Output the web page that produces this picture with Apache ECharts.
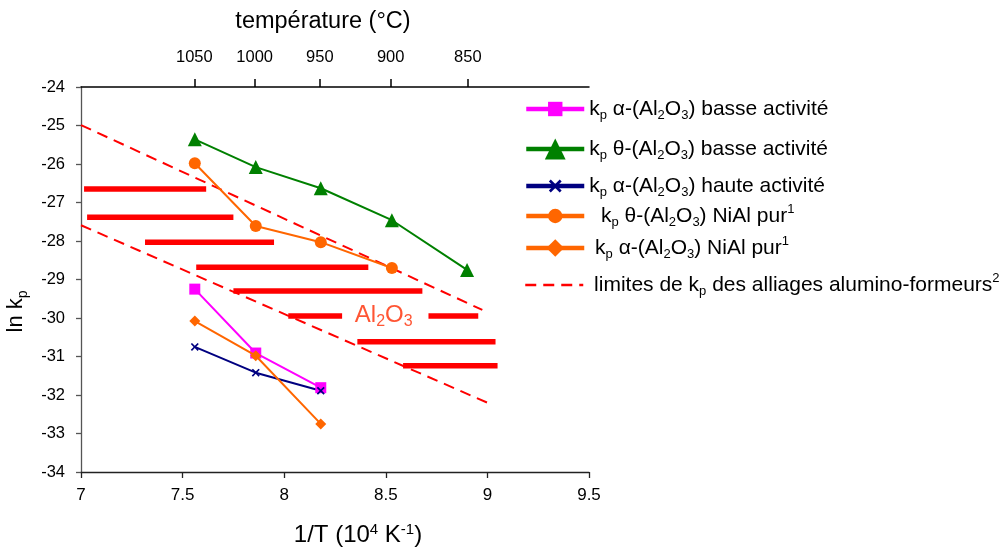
<!DOCTYPE html>
<html><head><meta charset="utf-8">
<script src="https://cdn.jsdelivr.net/npm/echarts@6/dist/echarts.min.js"></script>
<style>html,body{margin:0;padding:0;background:#fff}#c{width:1008px;height:549px}</style>
</head><body><div id="c"></div>
<script>
// ---- data ----
const invT = [7.56, 7.86, 8.18, 8.53, 8.90];
const thetaBasse = [-25.36, -26.08, -26.63, -27.46, -28.75];
const thetaNiAl = [-25.98, -27.61, -28.03, -28.70];
const alphaBasse = [-29.25, -30.91, -31.81];
const alphaNiAl = [-30.08, -30.98, -32.75];
const alphaHaute = [-30.75, -31.42, -31.89];
const upperX = [7.0, 8.975];
const upperY = [-24.99, -29.79];
const lowerX = [7.0, 9.0];
const lowerY = [-27.59, -32.20];
const barY  = [-26.65, -27.38, -28.03, -28.68, -29.30, -29.95, -29.95, -30.62, -31.24];
const barX0 = [7.015, 7.03, 7.315, 7.567, 7.75, 8.02, 8.71, 8.36, 8.585];
const barX1 = [7.616, 7.75, 7.95, 8.414, 8.68, 8.285, 8.955, 9.04, 9.05];
const oxideLabel = [8.49, -29.92];
const tempTicks = [1050, 1000, 950, 900, 850];
const names = [
  'kp α-(Al2O3) basse activité',
  'kp θ-(Al2O3) basse activité',
  'kp α-(Al2O3) haute activité',
  'kp θ-(Al2O3) NiAl pur1',
  'kp α-(Al2O3) NiAl pur1',
  'limites de kp des alliages alumino-formeurs2'
];
const richNames = [
  'k{sub|p} α-(Al{sub|2}O{sub|3}) basse activité',
  'k{sub|p} θ-(Al{sub|2}O{sub|3}) basse activité',
  'k{sub|p} α-(Al{sub|2}O{sub|3}) haute activité',
  '  k{sub|p} θ-(Al{sub|2}O{sub|3}) NiAl pur{sup|1}',
  ' k{sub|p} α-(Al{sub|2}O{sub|3}) NiAl pur{sup|1}',
  ' limites de k{sub|p} des alliages alumino-formeurs{sup|2}'
];

// ---- chart ----
const FONT = 'Liberation Sans';
const rich = {
  sub: {fontSize: 13, fontFamily: FONT, color: '#000', verticalAlign: 'bottom', lineHeight: 26},
  sup: {fontSize: 13, fontFamily: FONT, color: '#000', verticalAlign: 'top', lineHeight: 26}
};
const xMark = 'path://M0,1.5 L1.5,0 L5,3.5 L8.5,0 L10,1.5 L6.5,5 L10,8.5 L8.5,10 L5,6.5 L1.5,10 L0,8.5 L3.5,5 Z';
const tempPos = tempTicks.map(t => 1e4 / (t + 273.15));
const zip = (xs, ys) => ys.map((y, i) => [xs[i], y]);

const series = [];
series.push({name: names[5], type: 'line', data: zip(upperX, upperY), symbol: 'none', silent: true,
  lineStyle: {color: '#ff0000', width: 2, type: [11, 7]}, itemStyle: {color: '#ff0000'}, z: 1});
series.push({name: names[5], type: 'line', data: zip(lowerX, lowerY), symbol: 'none', silent: true,
  lineStyle: {color: '#ff0000', width: 2, type: [11, 7]}, itemStyle: {color: '#ff0000'}, z: 1});
barY.forEach((y, i) => series.push({type: 'line', data: [[barX0[i], y], [barX1[i], y]], symbol: 'none', silent: true,
  lineStyle: {color: '#ff0000', width: 5.5, cap: 'butt'}, z: 1}));
series.push({type: 'scatter', data: [oxideLabel], symbolSize: 2, itemStyle: {color: 'rgba(0,0,0,0)'}, silent: true,
  label: {show: true, position: 'inside', formatter: 'Al{s|2}O{s|3}', color: '#ff2a00', fontFamily: FONT, fontSize: 24, lineHeight: 30,
    rich: {s: {fontSize: 16, color: '#ff2a00', fontFamily: FONT, verticalAlign: 'bottom', lineHeight: 30}}}});
series.push({name: names[1], type: 'line', data: zip(invT, thetaBasse), symbol: 'triangle', symbolSize: 14,
  lineStyle: {color: '#008000', width: 2}, itemStyle: {color: '#008000'}, z: 3});
series.push({name: names[3], type: 'line', data: zip(invT, thetaNiAl), symbol: 'circle', symbolSize: 12,
  lineStyle: {color: '#ff6600', width: 2}, itemStyle: {color: '#ff6600'}, z: 3});
series.push({name: names[0], type: 'line', data: zip(invT, alphaBasse), symbol: 'rect', symbolSize: 11,
  lineStyle: {color: '#ff00ff', width: 2}, itemStyle: {color: '#ff00ff'}, z: 3});
series.push({name: names[4], type: 'line', data: zip(invT, alphaNiAl), symbol: 'diamond', symbolSize: 11,
  lineStyle: {color: '#ff6600', width: 2}, itemStyle: {color: '#ff6600'}, z: 4});
series.push({name: names[2], type: 'line', data: zip(invT, alphaHaute), symbol: xMark, symbolSize: 8,
  lineStyle: {color: '#000080', width: 2}, itemStyle: {color: '#000080'}, z: 3});

const legendCenters = [109, 149, 186, 216, 248, 285];
const legendH = [18, 26, 16, 18, 22, 14];
const legendLW = [4.5, 4.5, 4.5, 4.5, 4.5, 2.5];
const legend = names.map((n, i) => ({
  data: [{name: n}], left: 524, top: legendCenters[i] - Math.max(legendH[i], 26) / 2, padding: 0,
  itemWidth: 58, itemHeight: legendH[i], selectedMode: false, orient: 'horizontal',
  lineStyle: {width: legendLW[i]},
  formatter: name => richNames[names.indexOf(name)],
  textStyle: {fontFamily: FONT, fontSize: 21, color: '#000', lineHeight: 26, rich: rich}
}));
legend[5].itemStyle = {opacity: 0};

const option = {
  animation: false,
  backgroundColor: '#fff',
  grid: {left: 81, right: 419, top: 87, bottom: 77, containLabel: false, outerBoundsMode: 'none'},
  legend: legend,
  xAxis: [{
    type: 'value', min: 7, max: 9.5, interval: 0.5, position: 'bottom',
    axisLine: {show: true, lineStyle: {color: '#222', width: 1.3}},
    axisTick: {show: true, length: 6, lineStyle: {color: '#222', width: 1.3}},
    axisLabel: {margin: 15, fontFamily: FONT, fontSize: 17, color: '#000'},
    splitLine: {show: false},
    name: '1/T (10{sup|4} K{sup|-1})', nameLocation: 'middle', nameGap: 50,
    nameTextStyle: {fontFamily: FONT, fontSize: 24, color: '#000', lineHeight: 26, padding: [0, 0, 0, 46],
      rich: {sup: {fontSize: 15, fontFamily: FONT, color: '#000', verticalAlign: 'top', lineHeight: 26}}}
  }, {
    type: 'value', min: 7, max: 9.5, position: 'top',
    axisLine: {show: true, lineStyle: {color: '#000', width: 1.5}},
    axisTick: {show: true, length: 8, customValues: tempPos, lineStyle: {color: '#000', width: 1.5}},
    axisLabel: {margin: 21, customValues: tempPos, formatter: v => String(Math.round(1e4 / v - 273.15)),
      fontFamily: FONT, fontSize: 16.5, color: '#000'},
    splitLine: {show: false},
    name: 'température (°C)', nameLocation: 'middle', nameGap: 52,
    nameTextStyle: {fontFamily: FONT, fontSize: 23.5, color: '#000', lineHeight: 26, padding: [0, 24, 0, 0]}
  }],
  yAxis: {
    type: 'value', min: -34, max: -24, interval: 1,
    axisLine: {show: true, lineStyle: {color: '#555', width: 1.3}},
    axisTick: {show: true, length: 5, lineStyle: {color: '#555', width: 1.3}},
    axisLabel: {margin: 16, fontFamily: FONT, fontSize: 16.5, color: '#000'},
    splitLine: {show: false},
    name: 'ln k{sub|p}', nameLocation: 'middle', nameGap: 47, nameRotate: 90,
    nameTextStyle: {fontFamily: FONT, fontSize: 22, color: '#000', lineHeight: 28, padding: [0, 64, 0, 0],
      rich: {sub: {fontSize: 14, fontFamily: FONT, color: '#000', verticalAlign: 'bottom', lineHeight: 28}}}
  },
  series: series
};
const chart = echarts.init(document.getElementById('c'), null, {renderer: 'canvas'});
chart.setOption(option);
</script>
</body></html>
